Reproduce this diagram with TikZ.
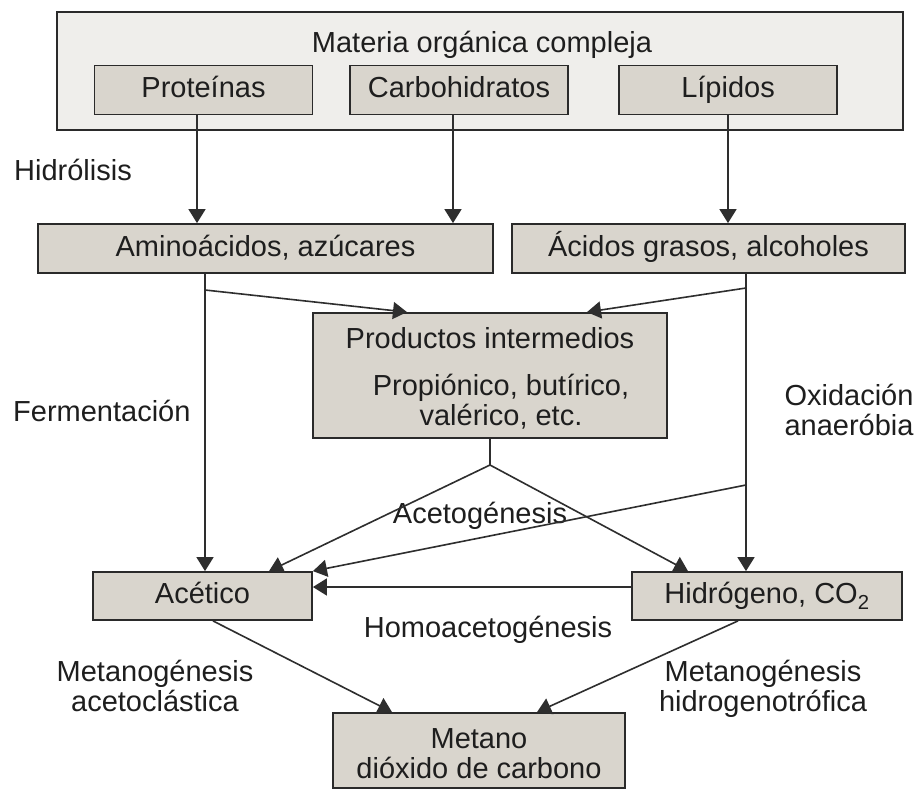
\documentclass[tikz,border=0pt]{standalone}
\usepackage{fontspec}
\setmainfont{Liberation Sans}
\usetikzlibrary{arrows.meta,calc}
\definecolor{boxfill}{HTML}{D9D5CD}
\definecolor{outerfill}{HTML}{EFEEEB}
\definecolor{bordercol}{HTML}{2A2A2A}
\definecolor{linecol}{HTML}{2E2E2E}
\definecolor{txtcol}{HTML}{1E1E1E}
\newcommand{\TSx}[1]{\rule{0pt}{#1}}
\newcommand{\BSx}{\rule[-6pt]{0pt}{6pt}}
\tikzset{
  boxbase/.style={draw=bordercol, line width=1.8pt, fill=boxfill, inner sep=0pt,
    align=center, text=txtcol, font=\fontsize{29}{30}\selectfont},
  box/.style={boxbase, text height=21pt, text depth=6pt},
  outerbox/.style={draw=bordercol, line width=1.8pt, fill=outerfill, inner sep=0pt},
  lblbase/.style={inner sep=0pt, align=center, text=txtcol, font=\fontsize{29}{30}\selectfont},
  lbl/.style={lblbase, text height=21pt, text depth=6pt},
  conn/.style={line width=1.6pt, draw=linecol},
  arr/.style={conn, -{Triangle[length=14pt,width=17pt]}},
}
\begin{document}
\begin{tikzpicture}[x=1pt,y=-1pt]
\path[use as bounding box, fill=white] (0,0) rectangle (920,790);

% top container
\node[outerbox, minimum width=846pt, minimum height=118pt] (mat) at (480,71) {};
\node[lbl] (matlbl) at (482,44.5) {Materia orgánica compleja};
\node[box, minimum width=218pt, minimum height=49pt] (prot) at (203.5,90) {Proteínas};
\node[box, minimum width=218pt, minimum height=49pt] (carb) at (459,90) {Carbohidratos};
\node[box, minimum width=218pt, minimum height=49pt] (lip) at (728,90) {Lípidos};

% second row
\node[box, minimum width=455pt, minimum height=49pt] (amino) at (265.5,248.5) {Aminoácidos, azúcares};
\node[box, minimum width=393pt, minimum height=49pt] (acid) at (708.5,248.5) {Ácidos grasos, alcoholes};

% intermediate
\node[boxbase, minimum width=354pt, minimum height=125pt] (prod) at (490,375.5)
  {\TSx{28pt}Productos intermedios\\[17pt]\hspace*{22pt}Propiónico, butírico,\\\hspace*{22pt}valérico, etc.\BSx};

% lower row
\node[box, minimum width=219pt, minimum height=48pt] (acet) at (202.5,596) {Acético};
\node[box, minimum width=270pt, minimum height=48pt] (hidr) at (767,596) {Hidrógeno, CO\textsubscript{2}};
\node[boxbase, minimum width=292pt, minimum height=75pt] (met) at (479,750.5)
  {\TSx{31pt}Metano\\dióxido de carbono\BSx};

% labels
\node[lbl, anchor=west] (hidrol) at (14,172.5) {Hidrólisis};
\node[lbl, anchor=west] (ferm) at (13,413.5) {Fermentación};
\node[lblbase] (oxid) at (849,412.5) {\TSx{21pt}Oxidación\\anaeróbia\BSx};
\node[lbl] (acetog) at (480,515.5) {Acetogénesis};
\node[lbl] (homo) at (488,629.5) {Homoacetogénesis};
\node[lblbase] (metac) at (155,688.5) {\TSx{21pt}Metanogénesis\\acetoclástica\BSx};
\node[lblbase] (meth) at (763,688.5) {\TSx{21pt}Metanogénesis\\hidrogenotrófica\BSx};

% helper coordinates
\coordinate (xp) at (197,0);
\coordinate (xc) at (453,0);
\coordinate (xa) at (205,0);
\coordinate (xd) at (746,0);
\coordinate (ja) at (205,290);
\coordinate (jd) at (746,288);
\coordinate (jo) at (746,485);
\coordinate (tpl) at (407,0);
\coordinate (tpr) at (587,0);
\coordinate (jp) at (490,465);
\coordinate (tal) at (269,0);
\coordinate (thl) at (688,0);
\coordinate (sac) at (213,0);
\coordinate (shi) at (738,0);
\coordinate (tml) at (392,0);
\coordinate (tmr) at (537,0);

% hydrolysis arrows
\draw[arr] (xp |- prot.south) -- (xp |- amino.north);
\draw[arr] (xc |- carb.south) -- (xc |- amino.north);
\draw[arr] (lip.south) -- (lip.south |- acid.north);

% fermentation / oxidation
\draw[arr] (xa |- amino.south) -- (xa |- acet.north);
\draw[arr] (ja) -- (tpl |- prod.north);
\draw[arr] (xd |- acid.south) -- (xd |- hidr.north);
\draw[arr] (jd) -- (tpr |- prod.north);

% acetogenesis
\draw[conn] (prod.south) -- (jp);
\draw[arr] (jp) -- (tal |- acet.north);
\draw[arr] (jp) -- (thl |- hidr.north);
\draw[arr] (jo) -- (acet.north east);

% homoacetogenesis
\draw[arr] ([yshift=9pt]hidr.west) -- ([yshift=9pt]acet.east);

% methanogenesis
\draw[arr] (sac |- acet.south) -- (tml |- met.north);
\draw[arr] (shi |- hidr.south) -- (tmr |- met.north);
\end{tikzpicture}
\end{document}
